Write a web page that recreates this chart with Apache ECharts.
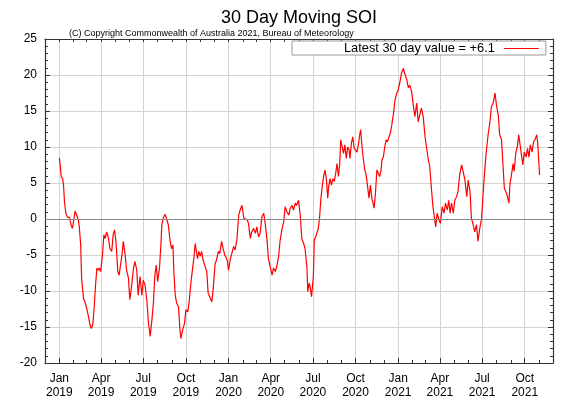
<!DOCTYPE html>
<html>
<head>
<meta charset="utf-8">
<script src="https://cdn.jsdelivr.net/npm/echarts@6/dist/echarts.min.js"></script>
<style>
  html, body { margin: 0; padding: 0; background: #fff; }
  #chart { width: 576px; height: 403px; }
</style>
</head>
<body>
<div id="chart"></div>
<script>
// days since 1 Jan 2019
var dayOffset = [0,2,4,7,9,11,14,17,22,25,28,30,34,38,41,43,46,48,52,55,59,63,66,69,72,75,78,81,83,86,89,93,96,99,102,106,109,113,116,119,122,124,126,129,131,135,138,142,145,149,152,156,160,163,167,170,174,178,181,185,189,192,196,200,203,206,209,212,216,219,221,224,228,232,235,239,242,245,247,250,253,257,260,262,266,270,273,277,280,284,287,290,293,295,298,301,304,307,310,314,318,321,325,329,332,336,339,343,346,350,354,357,362,365,369,372,376,379,383,387,390,394,398,401,405,408,412,415,419,423,426,430,433,437,441,444,448,451,455,459,462,466,469,473,476,480,484,487,491,495,498,502,505,509,512,516,520,523,527,530,534,536,539,541,544,548,550,553,556,558,561,564,567,570,573,576,579,581,584,587,590,593,596,599,602,605,607,610,613,616,619,622,625,627,630,633,636,639,642,645,648,650,653,656,659,662,665,668,671,674,676,679,682,685,688,691,694,696,699,702,705,708,711,714,717,721,724,728,731,735,738,742,745,749,753,756,760,763,767,771,774,778,781,785,789,792,796,799,803,806,809,812,815,819,822,826,830,833,837,840,843,846,850,853,857,860,864,868,871,875,879,882,886,889,893,896,900,903,907,911,914,918,921,925,929,932,936,940,943,947,950,954,957,960,963,966,970,972,975,979,981,985,988,991,994,997,1000,1003,1007,1010,1013,1016,1020,1023,1026,1030,1032,1034,1036];

var soi = [8.5,7.3,5.9,5.6,4.7,2.4,0.8,0.3,0.2,-0.8,-1.3,-0.6,1.1,1.0,-0.1,-1.1,-3.6,-8.2,-11.0,-11.5,-12.4,-13.6,-14.7,-15.2,-14.7,-12.4,-9.2,-6.8,-7.1,-6.8,-7.3,-5.0,-2.2,-2.7,-1.8,-2.7,-4.1,-4.5,-2.2,-1.5,-3.1,-5.0,-7.3,-7.8,-6.8,-5.0,-3.1,-5.0,-7.1,-8.2,-11.2,-9.2,-6.8,-5.9,-7.1,-10.6,-8.0,-10.6,-8.5,-9.2,-11.5,-14.3,-16.3,-13.8,-11.5,-7.8,-6.4,-8.7,-6.8,-3.6,-0.8,0.1,0.65,-0.1,-0.8,-3.1,-4.1,-3.6,-7.3,-10.6,-11.7,-12.2,-15.2,-16.6,-15.4,-14.5,-12.6,-12.9,-11.5,-8.7,-8.5,-5.5,-3.4,-3.6,-5.5,-4.5,-5.2,-4.5,-5.7,-5.5,-7.3,-10.3,-10.1,-11.5,-9.6,-6.2,-5.7,-4.5,-4.8,-3.1,-4.3,-5.0,-5.7,-7.1,-5.5,-4.8,-3.8,-4.3,-2.9,0.55,1.25,1.9,0.1,0.1,-0.1,-0.6,-2.7,-1.8,-1.3,-2.0,-1.1,-2.5,-2.0,0.3,0.8,-0.6,-2.9,-5.5,-5.7,-7.8,-6.8,-7.3,-6.6,-5.2,-3.1,-1.5,-0.4,1.7,1.0,0.55,1.5,1.9,1.25,2.2,1.9,2.6,0.3,-2.7,-3.4,-4.1,-6.6,-10.1,-8.9,-9.4,-10.8,-8.0,-2.9,-2.5,-1.8,-1.5,-0.1,2.6,4.5,5.9,6.8,5.6,2.9,4.5,5.6,4.7,5.6,5.2,6.3,7.7,5.9,7.7,11.0,11.2,9.1,10.3,8.4,10.0,9.6,8.4,10.5,11.4,9.8,10.0,9.3,10.3,11.7,12.4,10.0,8.2,6.8,6.1,4.5,2.9,4.7,2.9,2.4,1.5,3.6,6.8,6.6,5.9,6.8,8.2,8.6,10.0,11.0,10.7,11.4,11.9,13.0,14.7,16.5,17.5,17.9,19.1,20.2,20.9,20.2,19.5,18.2,18.6,17.7,16.1,14.2,16.1,13.5,13.75,15.4,14.2,11.4,10.0,8.2,7.3,4.0,1.7,0.3,-1.1,0.8,-0.1,-0.6,1.7,0.8,2.2,1.25,2.6,0.8,2.2,0.8,2.6,3.1,3.8,6.3,7.5,6.6,5.4,3.1,5.4,3.8,0.1,-0.8,-1.8,-0.8,-3.1,-1.3,0.1,3.3,7.0,9.3,11.7,13.5,15.6,16.1,17.5,15.8,14.4,11.7,11.0,7.5,4.3,3.8,3.3,2.2,4.7,4.7,7.7,6.6,9.3,10.0,11.7,10.3,10.3,7.5,9.3,8.6,9.8,8.6,10.3,9.3,10.7,11.0,11.7,10.5,8.4,6.1];

var monthNames = ['Jan','Feb','Mar','Apr','May','Jun','Jul','Aug','Sep','Oct','Nov','Dec'];
var labelMonths = [[2019,0],[2019,3],[2019,6],[2019,9],[2020,0],[2020,3],[2020,6],[2020,9],[2021,0],[2021,3],[2021,6],[2021,9]];

var font = 'Liberation Sans, Arial, Helvetica, sans-serif';
var DAY = 86400000;
var origin = Date.UTC(2019, 0, 1);

function dayOf(y, m) { return Math.round((Date.UTC(y, m, 1) - origin) / DAY); }

var seriesData = dayOffset.map(function (d, i) { return [d, soi[i]]; });
var latest = soi[soi.length - 1];
var legendName = 'Latest 30 day value = ' + (latest >= 0 ? '+' : '') + latest.toFixed(1);

var quarterTicks = labelMonths.map(function (m) { return dayOf(m[0], m[1]); });
var monthTicks = [];
for (var k = 0; k < 37; k++) monthTicks.push(dayOf(2018, 11 + k));

var xMin = dayOf(2018, 11);
var xMax = dayOf(2021, 11);

var frame = { show: true, onZero: false, lineStyle: { color: '#333', width: 1.2 } };
var noLine = { show: false, onZero: false };

var myChart = echarts.init(document.getElementById('chart'));
var option = {
  animation: false,
  backgroundColor: '#fff',
  title: [
    { text: '30 Day Moving SOI', left: 221, top: 9, padding: 0,
      textStyle: { fontFamily: font, fontSize: 18, fontWeight: 'normal', color: '#000' } },
    { text: '(C) Copyright Commonwealth of Australia 2021, Bureau of Meteorology', left: 69, top: 29, padding: 0,
      textStyle: { fontFamily: font, fontSize: 9, fontWeight: 'normal', color: '#000' } }
  ],
  legend: {
    data: [legendName],
    left: 292, top: 41,
    align: 'right',
    icon: 'rect', itemWidth: 35, itemHeight: 1,
    padding: [1, 7, 0, 52],
    borderColor: '#999', borderWidth: 1, borderRadius: 0,
    backgroundColor: '#fff',
    textStyle: { fontFamily: font, fontSize: 12.8, color: '#000', padding: [0, 4, 0, 0] }
  },
  grid: { left: 45, right: 23, top: 39, bottom: 40 },
  xAxis: [
    {
      type: 'value', min: xMin, max: xMax, position: 'bottom',
      axisLine: frame,
      axisTick: { show: true, inside: true, length: 5, customValues: quarterTicks, lineStyle: { color: '#333' } },
      axisLabel: {
        customValues: quarterTicks, margin: 9, fontFamily: font, fontSize: 12, lineHeight: 14, color: '#000',
        formatter: function (v) {
          var d = new Date(origin + v * DAY);
          return monthNames[d.getUTCMonth()] + '\n' + d.getUTCFullYear();
        }
      },
      splitLine: { show: true, lineStyle: { color: '#d3d3d3', width: 1 } }
    },
    {
      type: 'value', min: xMin, max: xMax, position: 'bottom',
      axisLine: noLine,
      axisTick: { show: true, inside: true, length: 3, customValues: monthTicks, lineStyle: { color: '#333' } },
      axisLabel: { show: false },
      splitLine: { show: false }
    },
    {
      type: 'value', min: xMin, max: xMax, position: 'top',
      axisLine: frame,
      axisTick: { show: true, inside: true, length: 3, customValues: monthTicks, lineStyle: { color: '#333' } },
      axisLabel: { show: false },
      splitLine: { show: false }
    }
  ],
  yAxis: [
    {
      type: 'value', min: -20, max: 25, interval: 5, position: 'left',
      axisLine: frame,
      axisTick: { show: true, inside: true, length: 5, lineStyle: { color: '#333' } },
      minorTick: { show: true, splitNumber: 5, length: 3, lineStyle: { color: '#333' } },
      axisLabel: { margin: 8, fontFamily: font, fontSize: 12, color: '#000' },
      splitLine: { show: true, lineStyle: { color: '#d3d3d3', width: 1 } }
    },
    {
      type: 'value', min: -20, max: 25, interval: 5, position: 'right',
      axisLine: frame,
      axisTick: { show: true, inside: true, length: 5, lineStyle: { color: '#333' } },
      minorTick: { show: true, splitNumber: 5, length: 3, lineStyle: { color: '#333' } },
      axisLabel: { show: false },
      splitLine: { show: false }
    }
  ],
  series: [
    {
      name: legendName,
      type: 'line',
      xAxisIndex: 0, yAxisIndex: 0,
      data: seriesData,
      showSymbol: false,
      color: '#ff0000',
      lineStyle: { color: '#ff0000', width: 1.2 },
      markLine: {
        silent: true, symbol: 'none', label: { show: false },
        lineStyle: { color: '#888', type: 'solid', width: 1 },
        data: [{ yAxis: 0 }]
      },
      z: 3
    }
  ]
};
myChart.setOption(option, true);
</script>
</body>
</html>
